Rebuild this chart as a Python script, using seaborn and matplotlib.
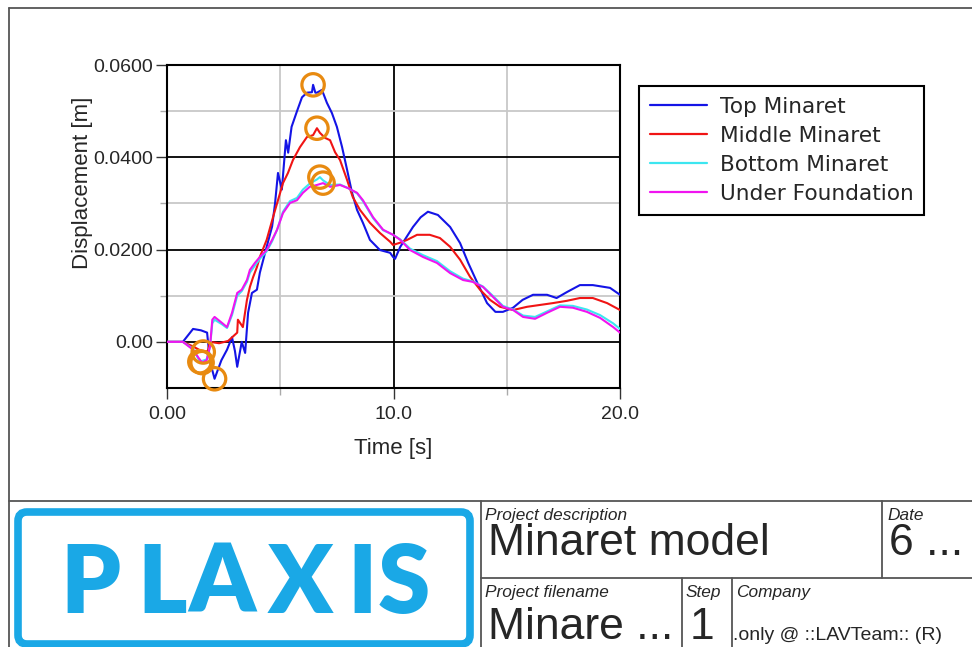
import numpy as np
import pandas as pd
import matplotlib
matplotlib.use("Agg")
import matplotlib.pyplot as plt
import seaborn as sns
from matplotlib.patches import FancyBboxPatch
from matplotlib.ticker import FixedLocator

W, H, DPI = 972, 647, 100

# ---------------- data ----------------
series_names = ["Top Minaret", "Middle Minaret", "Bottom Minaret", "Under Foundation"]
series_colors = ["#1414E6", "#F01414", "#3CE6F0", "#F014F0"]

top_t = [0, 0.7, 1.15, 1.5, 1.77, 1.9, 2.1, 2.4, 2.65, 2.87, 3.0, 3.1, 3.3, 3.45, 3.58,
         3.75, 3.97, 4.1, 4.4, 4.64, 4.77, 4.9, 5.07, 5.25, 5.35, 5.5, 5.74, 5.96, 6.18,
         6.4, 6.45, 6.55, 6.62, 6.84, 7.06, 7.28, 7.5, 7.73, 7.95, 8.17, 8.39, 8.65, 8.96,
         9.4, 9.85, 9.98, 10.07, 10.3, 10.86, 11.2, 11.52, 11.96, 12.5, 12.94, 13.3, 13.7,
         14.13, 14.5, 14.83, 15.28, 15.7, 16.16, 16.78, 17.2, 17.66, 18.23, 18.8, 19.56, 20.0]
top_v = [0, 0, 0.0028, 0.0025, 0.0020, -0.0043, -0.0080, -0.0040, -0.0017, 0.0010, -0.0020,
         -0.0054, 0.0000, -0.0024, 0.0063, 0.0106, 0.0113, 0.0150, 0.0206, 0.0250, 0.0300,
         0.0366, 0.0330, 0.0437, 0.0410, 0.0466, 0.0500, 0.0530, 0.0540, 0.0541, 0.0557,
         0.0540, 0.0540, 0.0546, 0.0518, 0.0496, 0.0466, 0.0422, 0.0373, 0.0323, 0.0286,
         0.0258, 0.0221, 0.0199, 0.0193, 0.0184, 0.0180, 0.0206, 0.0249, 0.0270, 0.0282,
         0.0275, 0.0249, 0.0214, 0.0171, 0.0128, 0.0084, 0.0065, 0.0065, 0.0074, 0.0091,
         0.0102, 0.0102, 0.0095, 0.0108, 0.0123, 0.0123, 0.0117, 0.0102]

mid_t = [0, 0.7, 1.15, 1.6, 1.8, 1.9, 2.3, 2.7, 3.1, 3.13, 3.35, 3.53, 3.66, 3.8, 3.97, 4.1,
         4.4, 4.68, 4.9, 5.12, 5.34, 5.56, 5.87, 6.18, 6.45, 6.62, 6.75, 6.98, 7.2, 7.42,
         7.64, 7.95, 8.2, 8.52, 8.96, 9.4, 9.85, 9.98, 10.3, 10.6, 11.04, 11.6, 12.05, 12.5,
         12.94, 13.38, 13.82, 14.26, 14.7, 15.28, 15.9, 16.47, 17.04, 17.66, 18.23, 18.8,
         19.43, 20.0]
mid_v = [0, 0, -0.0010, -0.0022, -0.0020, 0.0, -0.0003, 0.0002, 0.0020, 0.0048, 0.0032,
         0.0091, 0.0119, 0.0140, 0.0162, 0.0184, 0.0221, 0.0270, 0.0307, 0.0344, 0.0366,
         0.0394, 0.0422, 0.0444, 0.0448, 0.0463, 0.0453, 0.0442, 0.0437, 0.0411, 0.0394,
         0.0351, 0.0314, 0.0286, 0.0258, 0.0236, 0.0217, 0.0210, 0.0215, 0.0221, 0.0232,
         0.0232, 0.0225, 0.0206, 0.0178, 0.0141, 0.0113, 0.0091, 0.0076, 0.0069, 0.0076,
         0.0080, 0.0084, 0.0089, 0.0095, 0.0095, 0.0084, 0.0069]

bot_t = [0, 0.7, 1.15, 1.45, 1.75, 1.9, 2.0, 2.1, 2.43, 2.65, 2.87, 3.1, 3.3, 3.53, 3.66,
         3.88, 4.1, 4.4, 4.64, 4.86, 5.12, 5.43, 5.74, 6.0, 6.3, 6.62, 6.75, 6.89, 7.2, 7.64,
         8.0, 8.39, 8.65, 9.1, 9.54, 9.98, 10.3, 10.73, 11.3, 11.92, 12.5, 13.07, 13.5,
         13.95, 14.4, 14.83, 15.28, 15.72, 16.25, 16.78, 17.35, 17.92, 18.54, 19.12, 19.7, 20.0]
bot_v = [0, 0, -0.0015, -0.0043, -0.0038, -0.0010, 0.0040, 0.0048, 0.0038, 0.0030, 0.0058,
         0.0100, 0.0110, 0.0130, 0.0150, 0.0165, 0.0180, 0.0196, 0.0218, 0.0243, 0.0282,
         0.0305, 0.0312, 0.0330, 0.0343, 0.0352, 0.0357, 0.0350, 0.0340, 0.0341, 0.0333,
         0.0322, 0.0305, 0.0268, 0.0242, 0.0232, 0.0222, 0.0202, 0.0188, 0.0175, 0.0153,
         0.0137, 0.0131, 0.0120, 0.0099, 0.0078, 0.0070, 0.0057, 0.0054, 0.0066, 0.0079,
         0.0078, 0.0070, 0.0058, 0.0040, 0.0028]

und_t = [0, 0.7, 1.15, 1.4, 1.55, 1.75, 1.9, 2.0, 2.1, 2.43, 2.65, 2.87, 3.1, 3.3, 3.53,
         3.66, 3.88, 4.1, 4.4, 4.64, 4.86, 5.12, 5.43, 5.74, 6.0, 6.3, 6.62, 6.89, 7.2, 7.64,
         8.0, 8.39, 8.65, 9.1, 9.54, 9.98, 10.3, 10.73, 11.3, 11.92, 12.5, 13.07, 13.5,
         13.95, 14.4, 14.83, 15.28, 15.72, 16.25, 16.78, 17.35, 17.92, 18.54, 19.12, 19.7, 20.0]
und_v = [0, 0, -0.0017, -0.0035, -0.0045, -0.0040, -0.0010, 0.0048, 0.0054, 0.0041, 0.0032,
         0.0063, 0.0106, 0.0113, 0.0134, 0.0156, 0.0171, 0.0184, 0.0199, 0.0221, 0.0243,
         0.0279, 0.0301, 0.0307, 0.0323, 0.0336, 0.0340, 0.0344, 0.0336, 0.0340, 0.0333,
         0.0323, 0.0307, 0.0270, 0.0243, 0.0232, 0.0221, 0.0199, 0.0184, 0.0171, 0.0149,
         0.0134, 0.0130, 0.0119, 0.0097, 0.0076, 0.0069, 0.0054, 0.0050, 0.0063, 0.0076,
         0.0074, 0.0065, 0.0052, 0.0032, 0.0020]

x_ticks = [0, 10, 20]
x_tick_labels = ["0.00", "10.0", "20.0"]
x_minor = [5, 15]
y_ticks = [0.0, 0.02, 0.04, 0.06]
y_tick_labels = ["0.00", "0.0200", "0.0400", "0.0600"]
y_minor = [0.01, 0.03, 0.05]
x_label = "Time [s]"
y_label = "Displacement [m]"

# ---------------- figure ----------------
sns.set_style("white")
plt.rcParams["font.family"] = ["Liberation Sans", "DejaVu Sans"]

fig = plt.figure(figsize=(W / DPI, H / DPI), dpi=DPI)

ov = fig.add_axes([0, 0, 1, 1])
ov.set_xlim(0, W)
ov.set_ylim(H, 0)
ov.axis("off")


def px_rect(l, t, r, b):
    return [l / W, 1 - b / H, (r - l) / W, (b - t) / H]


ax = fig.add_axes(px_rect(167, 65, 620, 388))

frames = []
for name, tt, vv in zip(series_names, [top_t, mid_t, bot_t, und_t], [top_v, mid_v, bot_v, und_v]):
    frames.append(pd.DataFrame({"t": tt, "v": vv, "series": name}))
df = pd.concat(frames, ignore_index=True)

sns.lineplot(data=df, x="t", y="v", hue="series", hue_order=series_names,
             palette=dict(zip(series_names, series_colors)), sort=False,
             estimator=None, linewidth=1.5, ax=ax, zorder=3)

# extreme-value circles (min and max of each series)
ext = []
for name in series_names:
    d = df[df.series == name]
    ext.append(d.loc[d.v.idxmax()])
    ext.append(d.loc[d.v.idxmin()])
ext = pd.DataFrame(ext)
ax.scatter(ext.t, ext.v, s=260, facecolors="none", edgecolors="#E88A10",
           linewidths=2.3, zorder=5, label="_nolegend_", clip_on=False)

ax.set_xlim(0, 20)
ax.set_ylim(-0.01, 0.06)
ax.set_xticks(x_ticks)
ax.set_xticklabels(x_tick_labels)
ax.set_yticks(y_ticks)
ax.set_yticklabels(y_tick_labels)
ax.xaxis.set_minor_locator(FixedLocator(x_minor))
ax.yaxis.set_minor_locator(FixedLocator(y_minor))
ax.grid(which="major", color="black", linewidth=1.3, zorder=1)
ax.grid(which="minor", color="#C8C8C8", linewidth=1.3, zorder=1)
ax.set_axisbelow(True)
ax.tick_params(which="major", direction="out", length=8, width=1.0, color="#333333",
               labelsize=14, left=True, bottom=True)
ax.tick_params(axis="x", which="major", pad=5)
ax.tick_params(axis="y", which="major", pad=2)
ax.tick_params(which="minor", direction="out", length=5, width=1.0, color="#AAAAAA",
               left=True, bottom=True)
for s in ax.spines.values():
    s.set_color("black")
    s.set_linewidth(1.5)
ax.set_xlabel(x_label, fontsize=16, labelpad=11)
ax.set_ylabel(y_label, fontsize=16)
ax.yaxis.set_label_coords(-0.163, 0.636)

handles, labels = ax.get_legend_handles_labels()
leg = ax.legend(handles[:4], labels[:4], loc="upper left",
                bbox_to_anchor=(639 / W, 1 - 86 / H), bbox_transform=fig.transFigure,
                borderaxespad=0, frameon=True, fancybox=False, framealpha=1,
                edgecolor="black", prop={"family": "DejaVu Sans", "size": 15.6},
                handlelength=2.63, handletextpad=0.6, labelspacing=0.42,
                borderpad=0.49, title=None)
leg.get_frame().set_linewidth(1.5)
for l in leg.get_lines():
    l.set_linewidth(1.6)

# ---------------- page frame and title block ----------------
lc = "#555555"
lw = 1.3
ov.plot([9, 9], [8, H], color=lc, lw=lw)
ov.plot([9, W], [8, 8], color=lc, lw=lw)
ov.plot([9, W], [501, 501], color=lc, lw=lw)
ov.plot([481, 481], [501, H], color=lc, lw=lw)
ov.plot([481, W], [578, 578], color=lc, lw=lw)
ov.plot([882, 882], [501, 578], color=lc, lw=lw)
ov.plot([682, 682], [578, H], color=lc, lw=lw)
ov.plot([732, 732], [578, H], color=lc, lw=lw)

blue = "#1AA8E6"
box = FancyBboxPatch((18, 512), 452, 132, boxstyle="round,pad=0,rounding_size=9",
                     fill=False, edgecolor=blue, linewidth=5.5)
ov.add_patch(box)
for ch, cx in zip("PLAXIS", [90, 162, 222, 300, 362, 404]):
    ov.text(cx, 613, ch, color=blue, fontsize=68, fontweight="heavy", family="Lato",
            ha="center", va="baseline")

small = dict(fontsize=12.4, style="italic", family="Liberation Sans", va="baseline", ha="left")
big = dict(fontsize=32, family="Liberation Sans", va="baseline", ha="left")
ov.text(485, 520, "Project description", **small)
ov.text(488, 555, "Minaret model", **big)
ov.text(887, 520, "Date", **small)
ov.text(889, 555, "6 ...", **big)
ov.text(485, 597, "Project filename", **small)
ov.text(488, 639, "Minare ...", **big)
ov.text(686, 597, "Step", **small)
ov.text(690, 639, "1", **big)
ov.text(736, 597, "Company", **small)
ov.text(733, 640, ".only @ ::LAVTeam:: (R)", fontsize=14, family="Liberation Sans",
        va="baseline", ha="left")

fig.savefig("out.png", dpi=DPI)
